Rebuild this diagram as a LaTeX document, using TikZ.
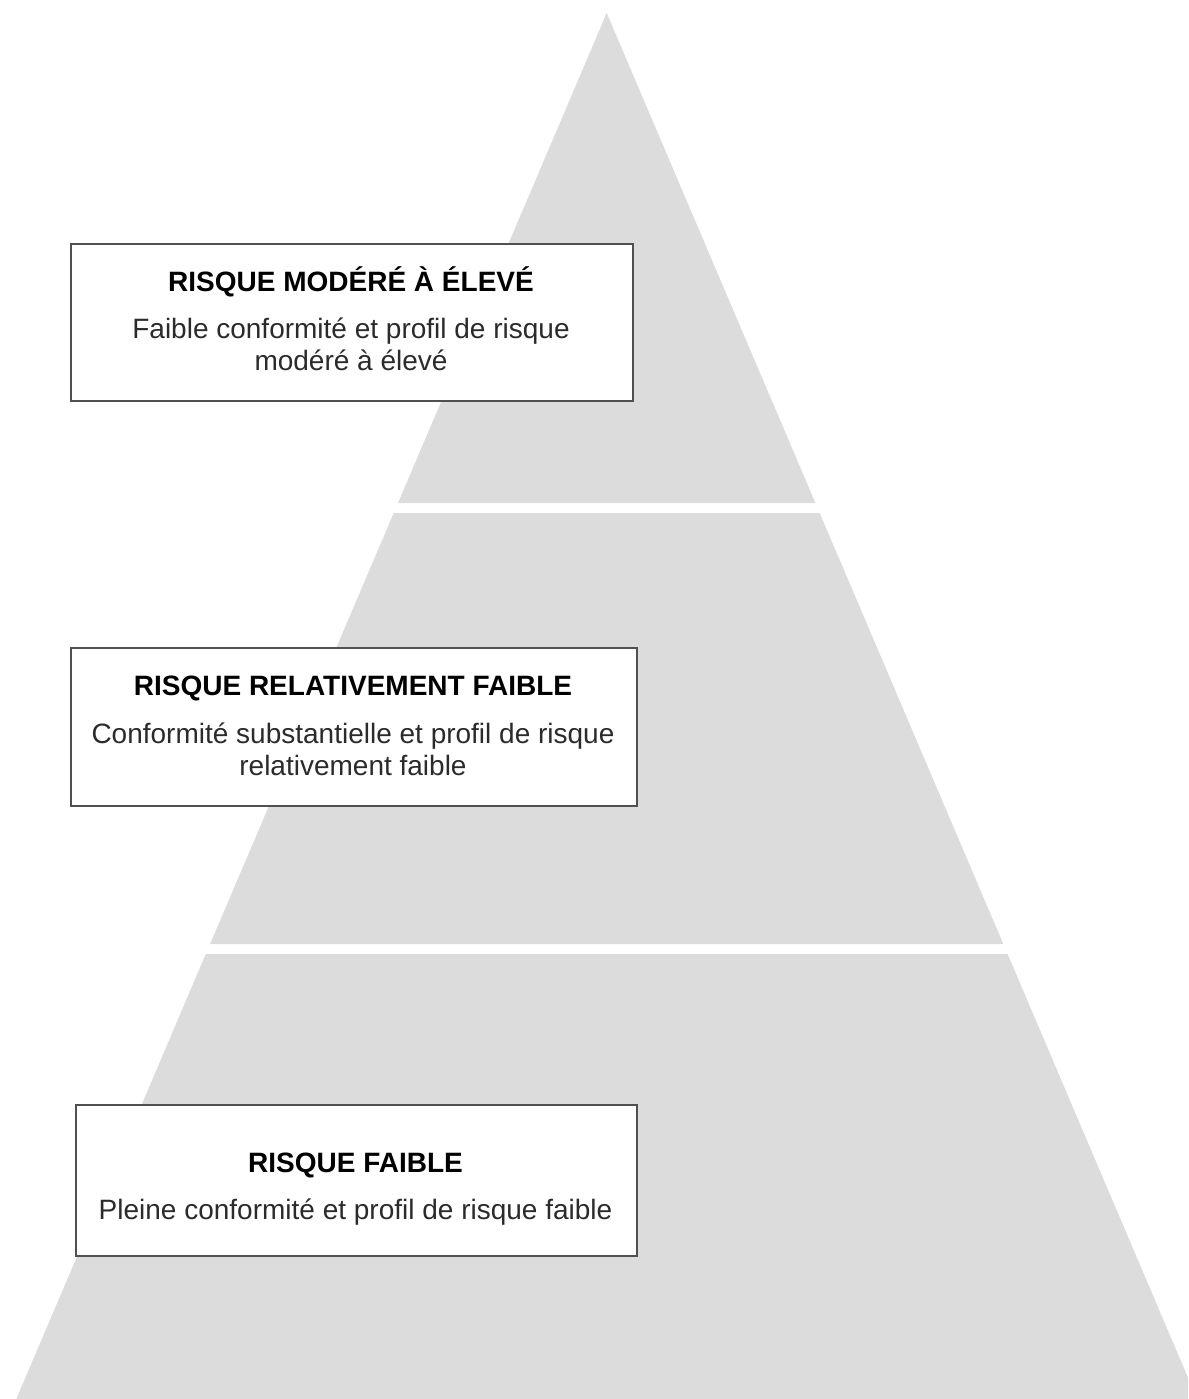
\documentclass[tikz,border=0pt]{standalone}
\usepackage{fontspec}
\setmainfont{Liberation Sans}
\begin{document}
\begin{tikzpicture}[x=1pt,y=-1pt,
  tier/.style={fill=tiergray,draw=none},
  levelbox/.style={draw=boxline,line width=1.6pt,fill=white,inner sep=0pt,rectangle},
  headline/.style={anchor=base,inner sep=0pt,text=black,font=\fontsize{28}{32}\selectfont\bfseries},
  bodyline/.style={anchor=base,inner sep=0pt,text=bodytext,font=\fontsize{28}{32}\selectfont}]
\definecolor{tiergray}{HTML}{DCDCDC}
\definecolor{boxline}{HTML}{505050}
\definecolor{bodytext}{HTML}{2B2B2B}
\useasboundingbox (0,0) rectangle (1188,1399);
\clip (0,0) rectangle (1188,1399);

% pyramid tiers
\fill[tier] (606.7,13) -- (815.4,503) -- (398.0,503) -- cycle;
\fill[tier] (393.7,513) -- (819.7,513) -- (1003.3,944) -- (210.1,944) -- cycle;
\fill[tier] (205.8,954) -- (1007.6,954) -- (1197.1,1399) -- (16.3,1399) -- cycle;

% top tier
\node[levelbox,minimum width=562pt,minimum height=157pt] (box1) at (352,322.5) {};
\node[headline] (head1) at (351,291) {RISQUE MODÉRÉ À ÉLEVÉ};
\node[bodyline] (body1a) at (351,338) {Faible conformité et profil de risque};
\node[bodyline] (body1b) at (351,370) {modéré à élevé};

% middle tier
\node[levelbox,minimum width=566pt,minimum height=158pt] (box2) at (354,727) {};
\node[headline] (head2) at (353,695) {RISQUE RELATIVEMENT FAIBLE};
\node[bodyline] (body2a) at (353,743) {Conformité substantielle et profil de risque};
\node[bodyline] (body2b) at (353,775) {relativement faible};

% bottom tier
\node[levelbox,minimum width=561pt,minimum height=151pt] (box3) at (356.5,1180.5) {};
\node[headline] (head3) at (355.5,1172) {RISQUE FAIBLE};
\node[bodyline] (body3a) at (355.5,1219) {Pleine conformité et profil de risque faible};
\end{tikzpicture}
\end{document}
